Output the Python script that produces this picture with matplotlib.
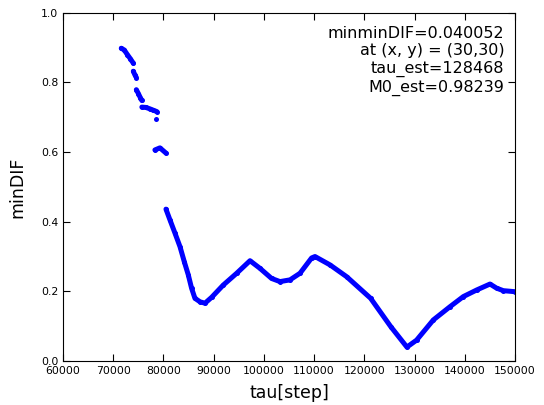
import numpy as np
import matplotlib
matplotlib.use("Agg")
from matplotlib import pyplot as plt

nan = np.nan

# tau[step] / minDIF, NaN = gap between pieces
tau = [71600, 72200, 72800, 73400, 74000, nan,
       74000, 74300, 74600, nan,
       74600, 75000, 75400, 75700, nan,
       75700, 76500, 77300, 78000, 78700, nan,
       78500, nan,
       78300, 79300, 80500, nan,
       80500, 81300, 82300, 83300, 84150, 84950, 85600, 86270, 87280, 88270,
       89600, 91900, 94580, 97230, 99220, 101530, 103200, 105200, 107190,
       109500, 110170, 113160, 116480, 121250, 125240, 128468, 130400,
       133730, 137050, 139700, 142370, 145010, 146350, 147660, 150000]
mindif = [0.898, 0.893, 0.880, 0.868, 0.855, nan,
          0.832, 0.822, 0.814, nan,
          0.779, 0.768, 0.756, 0.748, nan,
          0.729, 0.728, 0.724, 0.720, 0.716, nan,
          0.695, nan,
          0.606, 0.612, 0.597, nan,
          0.436, 0.405, 0.367, 0.328, 0.285, 0.247, 0.209, 0.180, 0.170, 0.166,
          0.183, 0.218, 0.252, 0.288, 0.266, 0.237, 0.228, 0.233, 0.252,
          0.296, 0.300, 0.276, 0.242, 0.180, 0.099, 0.040, 0.060,
          0.118, 0.156, 0.185, 0.204, 0.221, 0.209, 0.202, 0.199]

info = ["minminDIF=0.040052", "at (x, y) = (30,30)", "tau_est=128468", "M0_est=0.98239"]

fig = plt.figure(figsize=(5.44, 4.05), dpi=100)
ax = fig.add_axes([0.1158, 0.1086, 0.831, 0.8600])

ax.plot(tau, mindif, color='#0000ff', lw=3.6, marker='o', ms=3.6, mew=0,
        solid_capstyle='round', solid_joinstyle='round')

ax.set_xlim(60000, 150000)
ax.set_ylim(0, 1.0)
ax.set_xticks(np.arange(60000, 150001, 10000))
ax.set_yticks(np.arange(0, 1.01, 0.2))
ax.tick_params(direction='in', top=True, right=True, labelsize=7.8, length=5)
ax.set_xlabel("tau[step]", fontsize=12.5, labelpad=6)
ax.set_ylabel("minDIF", fontsize=12.5, labelpad=10)

ax.text(0.976, 0.962, "\n".join(info), transform=ax.transAxes,
        ha='right', va='top', fontsize=11.5, multialignment='right')

fig.savefig("out.png", dpi=100, facecolor='white')
